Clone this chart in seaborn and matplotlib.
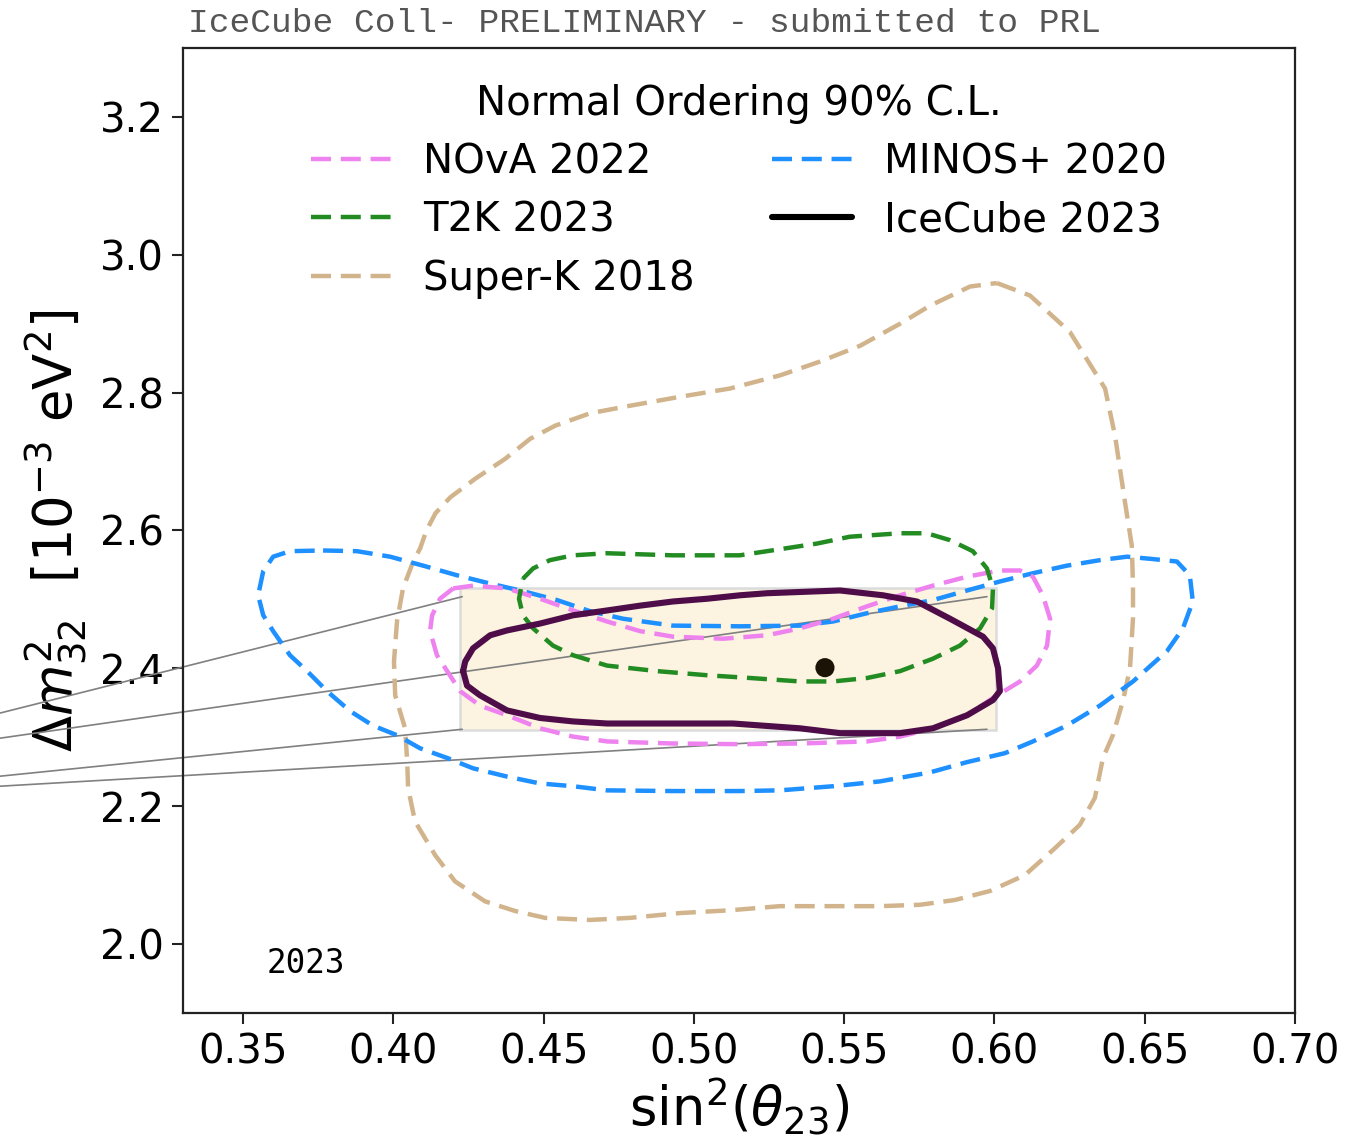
import numpy as np
import pandas as pd
import matplotlib
matplotlib.use("Agg")
import matplotlib.pyplot as plt
from matplotlib.lines import Line2D
from matplotlib.patches import Rectangle
import seaborn as sns

# ---------------- data ----------------
nova_x = [0.4199, 0.4265, 0.4378, 0.4488, 0.4598, 0.4711, 0.4821, 0.4930, 0.5097, 0.5243,
          0.5353, 0.5463, 0.5576, 0.5686, 0.5795, 0.5909, 0.6018, 0.6085, 0.6128, 0.6161,
          0.6185, 0.6175, 0.6141, 0.6085, 0.5995, 0.5909, 0.5795, 0.5686, 0.5576, 0.5353,
          0.5153, 0.4930, 0.4711, 0.4598, 0.4488, 0.4378, 0.4288, 0.4222, 0.4179, 0.4145,
          0.4122, 0.4129, 0.4155]
nova_y = [2.516, 2.520, 2.516, 2.501, 2.484, 2.468, 2.454, 2.446, 2.443, 2.448,
          2.458, 2.472, 2.490, 2.506, 2.520, 2.533, 2.542, 2.542, 2.533, 2.506,
          2.472, 2.433, 2.404, 2.381, 2.357, 2.332, 2.313, 2.301, 2.294, 2.291,
          2.290, 2.291, 2.294, 2.301, 2.313, 2.332, 2.346, 2.367, 2.396, 2.419,
          2.454, 2.477, 2.501]

t2k_x = [0.4431, 0.4465, 0.4521, 0.4598, 0.4711, 0.4930, 0.5153, 0.5243, 0.5409, 0.5519,
         0.5686, 0.5775, 0.5852, 0.5928, 0.5975, 0.5995, 0.5992, 0.5952, 0.5885, 0.5795,
         0.5686, 0.5576, 0.5463, 0.5353, 0.5187, 0.5044, 0.4877, 0.4711, 0.4598, 0.4531,
         0.4465, 0.4431, 0.4418]
t2k_y = [2.530, 2.545, 2.557, 2.564, 2.567, 2.564, 2.564, 2.570, 2.581, 2.591,
         2.596, 2.596, 2.586, 2.570, 2.545, 2.516, 2.487, 2.458, 2.433, 2.414,
         2.396, 2.386, 2.381, 2.381, 2.386, 2.390, 2.396, 2.404, 2.419, 2.433,
         2.458, 2.477, 2.501]

superk_x = [0.6008, 0.6118, 0.6251, 0.6368, 0.6401, 0.6434, 0.6457, 0.6461, 0.6461, 0.6451,
            0.6427, 0.6394, 0.6361, 0.6334, 0.6284, 0.6201, 0.6101, 0.5985, 0.5869, 0.5752,
            0.5619, 0.5453, 0.5286, 0.5120, 0.4954, 0.4787, 0.4654, 0.4505, 0.4405, 0.4305,
            0.4205, 0.4139, 0.4072, 0.4049, 0.4046, 0.4039, 0.4006, 0.4002, 0.4012, 0.4032,
            0.4066, 0.4089, 0.4110, 0.4140, 0.4189, 0.4272, 0.4372, 0.4455, 0.4538, 0.4654,
            0.4787, 0.4954, 0.5120, 0.5286, 0.5419, 0.5553, 0.5686, 0.5785, 0.5919]
superk_y = [2.959, 2.941, 2.888, 2.806, 2.738, 2.642, 2.578, 2.520, 2.473, 2.400,
            2.352, 2.303, 2.270, 2.212, 2.173, 2.139, 2.100, 2.077, 2.064, 2.057,
            2.055, 2.055, 2.055, 2.049, 2.045, 2.038, 2.035, 2.038, 2.048, 2.062,
            2.091, 2.129, 2.178, 2.226, 2.265, 2.313, 2.361, 2.410, 2.468, 2.516,
            2.555, 2.574, 2.600, 2.625, 2.648, 2.675, 2.704, 2.733, 2.752, 2.770,
            2.781, 2.794, 2.806, 2.825, 2.845, 2.868, 2.900, 2.926, 2.954]

minos_x = [0.3766, 0.3879, 0.3989, 0.4099, 0.4212, 0.4322, 0.4431, 0.4545, 0.4654, 0.4764,
           0.4930, 0.5153, 0.5353, 0.5463, 0.5576, 0.5686, 0.5795, 0.5909, 0.6018, 0.6128,
           0.6241, 0.6351, 0.6441, 0.6517, 0.6607, 0.6650, 0.6660, 0.6627, 0.6574, 0.6461,
           0.6351, 0.6241, 0.6128, 0.6035, 0.5909, 0.5785, 0.5619, 0.5463, 0.5286, 0.5153,
           0.4930, 0.4711, 0.4598, 0.4488, 0.4378, 0.4265, 0.4179, 0.4089, 0.4012, 0.3932,
           0.3856, 0.3779, 0.3713, 0.3656, 0.3600, 0.3567, 0.3550, 0.3567, 0.3600, 0.3656]
minos_y = [2.571, 2.570, 2.562, 2.549, 2.535, 2.523, 2.512, 2.499, 2.483, 2.472,
           2.462, 2.461, 2.462, 2.468, 2.480, 2.490, 2.499, 2.513, 2.526, 2.538,
           2.549, 2.557, 2.562, 2.559, 2.555, 2.535, 2.497, 2.458, 2.425, 2.381,
           2.346, 2.317, 2.294, 2.277, 2.264, 2.249, 2.236, 2.229, 2.223, 2.222,
           2.222, 2.223, 2.229, 2.233, 2.243, 2.255, 2.270, 2.284, 2.303, 2.317,
           2.338, 2.367, 2.396, 2.419, 2.454, 2.477, 2.506, 2.541, 2.562, 2.570]

icecube_x = [0.4232, 0.4239, 0.4265, 0.4322, 0.4378, 0.4488, 0.4598, 0.4711, 0.4821, 0.4930,
             0.5044, 0.5153, 0.5243, 0.5486, 0.5629, 0.5742, 0.5852, 0.5962, 0.5995, 0.6012,
             0.6018, 0.5995, 0.5909, 0.5795, 0.5686, 0.5486, 0.5353, 0.5130, 0.4930, 0.4711,
             0.4598, 0.4488, 0.4378, 0.4288, 0.4245]
icecube_y = [2.396, 2.410, 2.429, 2.448, 2.455, 2.465, 2.477, 2.484, 2.491, 2.497,
             2.501, 2.506, 2.509, 2.513, 2.506, 2.497, 2.472, 2.446, 2.429, 2.400,
             2.367, 2.354, 2.332, 2.313, 2.306, 2.306, 2.313, 2.320, 2.320, 2.320,
             2.323, 2.328, 2.339, 2.361, 2.375]

bestfit_x = [0.5436]
bestfit_y = [2.401]

# zoom box and its connector lines (going off to the left of the figure)
box_x = [0.4223, 0.6004]
box_y = [2.3106, 2.517]
conn_start_x = [0.269, 0.269, 0.269, 0.269]
conn_start_y = [2.335, 2.2986, 2.2435, 2.229]
conn_end_x = [0.4229, 0.5975, 0.4229, 0.5975]
conn_end_y = [2.504, 2.504, 2.3116, 2.3116]

labels = ["NOvA 2022", "T2K 2023", "Super-K 2018", "MINOS+ 2020", "IceCube 2023"]
colors = ["#EE82EE", "#228B22", "#D2B48C", "#1E90FF", "#000000"]
x_ticks = [0.35, 0.40, 0.45, 0.50, 0.55, 0.60, 0.65, 0.70]
y_ticks = [2.0, 2.2, 2.4, 2.6, 2.8, 3.0, 3.2]

# ---------------- figure ----------------
sns.set_theme(style="ticks")
plt.rcParams["font.family"] = ["DejaVu Sans"]
plt.rcParams["mathtext.fontset"] = "dejavusans"
plt.rcParams["text.color"] = "black"
plt.rcParams["axes.labelcolor"] = "black"
plt.rcParams["xtick.color"] = "black"
plt.rcParams["ytick.color"] = "black"
plt.rcParams["axes.edgecolor"] = "black"

DASH = (0, (4.5, 2.2))

fig = plt.figure(figsize=(13.67, 11.41), dpi=100)
ax = fig.add_axes([183 / 1367, 1 - 1013 / 1141, (1295 - 183) / 1367, (1013 - 48) / 1141])


def closed(xs, ys):
    return pd.DataFrame({"x": list(xs) + [xs[0]], "y": list(ys) + [ys[0]]})


ax.add_patch(Rectangle((box_x[0], box_y[0]), box_x[1] - box_x[0], box_y[1] - box_y[0],
                       facecolor="#FCF3E0", edgecolor="#DCDCDC", lw=1.8, zorder=1))

for sx, sy, ex, ey in zip(conn_start_x, conn_start_y, conn_end_x, conn_end_y):
    ax.plot([sx, ex], [sy, ey], color="#808080", lw=1.2, clip_on=False, zorder=1.5)

contours = [
    (superk_x, superk_y, colors[2]),
    (minos_x, minos_y, colors[3]),
    (nova_x, nova_y, colors[0]),
    (t2k_x, t2k_y, colors[1]),
]
for xs, ys, c in contours:
    d = closed(xs, ys)
    sns.lineplot(data=d, x="x", y="y", sort=False, estimator=None, ax=ax,
                 color=c, lw=3.2, linestyle=DASH, zorder=3)

d = closed(icecube_x, icecube_y)
sns.lineplot(data=d, x="x", y="y", sort=False, estimator=None, ax=ax,
             color="#4E0D48", lw=4.4, zorder=4)

sns.scatterplot(x=bestfit_x, y=bestfit_y, ax=ax, s=190, color="#1C1307",
                edgecolor="none", zorder=5)

ax.set_xlim(0.33, 0.70)
ax.set_ylim(1.9, 3.3)
ax.set_xticks(x_ticks)
ax.set_yticks(y_ticks)
ax.set_xticklabels([f"{v:.2f}" for v in x_ticks])
ax.set_yticklabels([f"{v:.1f}" for v in y_ticks])
ax.tick_params(axis="both", labelsize=29, length=8, width=1.5, pad=6, color="#222222",
               labelcolor="black")
for s in ax.spines.values():
    s.set_linewidth(1.6)
    s.set_color("#222222")

ax.set_xlabel(r"sin$^2$($\theta_{23}$)", fontsize=38, labelpad=2)
ax.set_ylabel(r"$\Delta m^2_{32}$  [$10^{-3}$ eV$^2$]", fontsize=38, labelpad=7)

handles = [Line2D([], [], color=colors[i], lw=3.2, ls=DASH) for i in range(4)]
handles.append(Line2D([], [], color=colors[4], lw=4.4))
leg = ax.legend(handles, labels, ncol=2, frameon=False, fontsize=29,
                title="Normal Ordering 90% C.L.", title_fontsize=29,
                loc="upper center", bbox_to_anchor=(0.5, 1.0),
                handlelength=2.0, handletextpad=0.8, columnspacing=1.9,
                labelspacing=0.45)
for t in leg.get_texts():
    t.set_color("black")
leg.get_title().set_color("black")

fig.text(188 / 1367, 1 - 24 / 1141, "IceCube Coll- PRELIMINARY - submitted to PRL",
         family="Liberation Mono", fontsize=24.8, color="#555555",
         ha="left", va="center")
ax.text(0.1106, 0.0508, "2023", transform=ax.transAxes, family="DejaVu Sans Mono",
        fontsize=23.5, color="black", ha="center", va="center")

fig.savefig("out.png", dpi=100)
